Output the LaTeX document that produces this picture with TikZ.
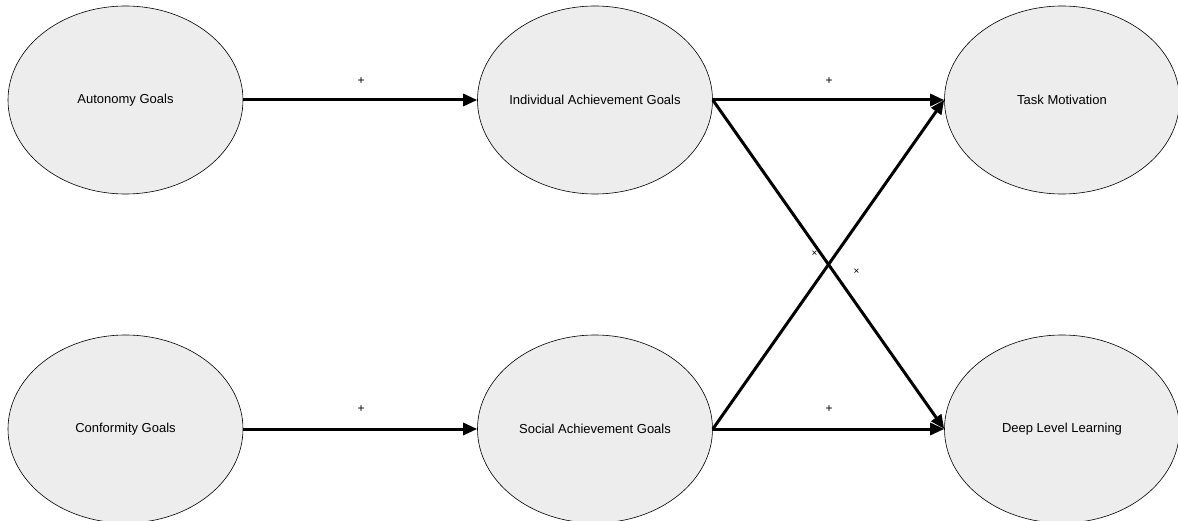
\documentclass[tikz,border=0pt]{standalone}
\usepackage{fontspec}
\setmainfont{Liberation Sans}
\usetikzlibrary{shapes.geometric,arrows.meta}
\begin{document}
\begin{tikzpicture}[x=1pt,y=-1pt,
  construct/.style={ellipse, draw=black, line width=0.6pt, fill=black!7,
    minimum width=235pt, minimum height=188pt, inner sep=0pt,
    label={[font=\fontsize{13}{15}\selectfont, inner sep=0pt]center:#1}},
  path/.style={line width=3pt, -{Triangle[length=14pt,width=12pt]}},
  sign/.style={font=\fontsize{12}{13}\selectfont, inner sep=0pt},
  cross/.style={font=\fontsize{10}{11}\selectfont, inner sep=0pt}]
\useasboundingbox (0,0) rectangle (1178,521);
\begin{scope}
\clip (0,0) rectangle (1178,521);
% constructs (text is set as a centred label so the ellipses keep one size)
\node[construct={Autonomy Goals}] (ag) at (125.5,100) {};
\node[construct={Conformity Goals}] (cg) at (125.5,429) {};
\node[construct={Individual Achievement Goals}] (ia) at (595,100) {};
\node[construct={Social Achievement Goals}] (sa) at (595,429) {};
\node[construct={Task Motivation}] (tm) at (1062,100) {};
\node[construct={Deep Level Learning}] (dl) at (1062,429) {};
% paths
\draw[path] (ag.east) -- (ia.west);
\draw[path] (cg.east) -- (sa.west);
\draw[path] (ia.east) -- (tm.west);
\draw[path] (sa.east) -- (dl.west);
\draw[path] (ia.east) -- (dl.west);
\draw[path] (sa.east) -- (tm.west);
% path signs
\node[sign] (s1) at (361,81) {+};
\node[sign] (s2) at (829,81) {+};
\node[sign] (s3) at (361,409.5) {+};
\node[sign] (s4) at (829,409.5) {+};
\node[cross] (x1) at (814.5,254) {×};
\node[cross] (x2) at (856.5,272) {×};
\end{scope}
\end{tikzpicture}
\end{document}
